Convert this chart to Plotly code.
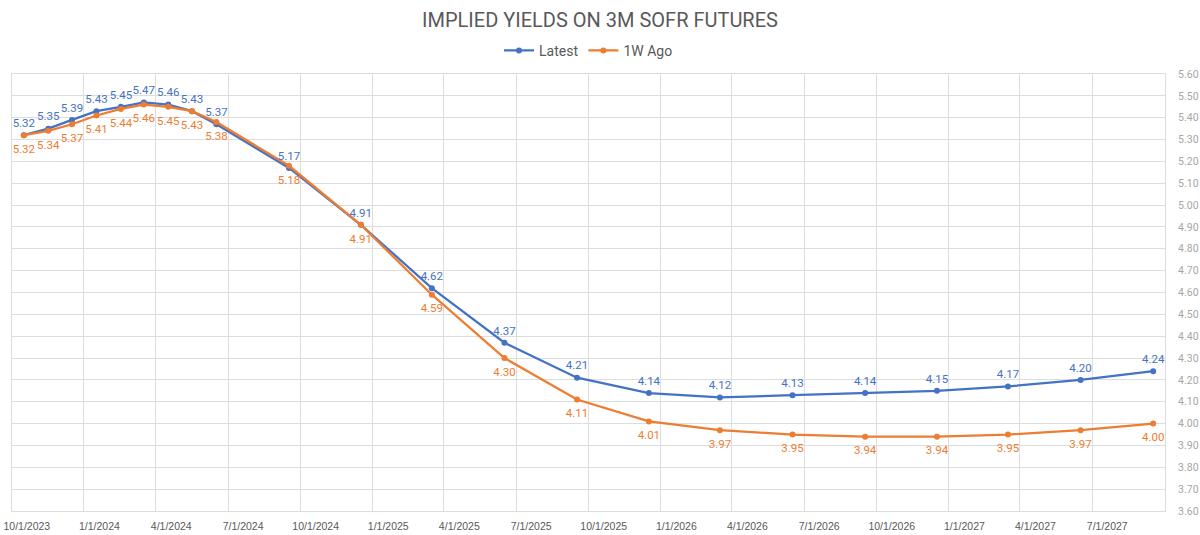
import plotly.graph_objects as go

dates = ["2023-10-01", "2023-11-01", "2023-12-01", "2024-01-01", "2024-02-01", "2024-03-01",
         "2024-04-01", "2024-05-01", "2024-06-01", "2024-09-01", "2024-12-01", "2025-03-01",
         "2025-06-01", "2025-09-01", "2025-12-01", "2026-03-01", "2026-06-01", "2026-09-01",
         "2026-12-01", "2027-03-01", "2027-06-01", "2027-09-01"]
latest = [5.32, 5.35, 5.39, 5.43, 5.45, 5.47, 5.46, 5.43, 5.37, 5.17, 4.91, 4.62,
          4.37, 4.21, 4.14, 4.12, 4.13, 4.14, 4.15, 4.17, 4.20, 4.24]
week_ago = [5.32, 5.34, 5.37, 5.41, 5.44, 5.46, 5.45, 5.43, 5.38, 5.18, 4.91, 4.59,
            4.30, 4.11, 4.01, 3.97, 3.95, 3.94, 3.94, 3.95, 3.97, 4.00]

BLUE = "#4472C4"
ORANGE = "#ED7D31"
GRID = "#DDDDDD"
TXT = "#595959"
FONT = "Roboto, sans-serif"
XFONT = "Liberation Sans, Arial, sans-serif"

fig = go.Figure()
fig.add_trace(go.Scatter(
    x=dates, y=latest, name="Latest", mode="lines+markers",
    line=dict(color=BLUE, width=2.25), marker=dict(size=6, color=BLUE),
))
fig.add_trace(go.Scatter(
    x=dates, y=week_ago, name="1W Ago", mode="lines+markers",
    line=dict(color=ORANGE, width=2.25), marker=dict(size=6, color=ORANGE),
))
# data labels (invisible markers set the label distance from the points)
fig.add_trace(go.Scatter(
    x=dates, y=latest, mode="markers+text", showlegend=False, hoverinfo="skip",
    marker=dict(size=7, opacity=0, color=BLUE),
    texttemplate="%{y:.2f}", textposition="top center",
    textfont=dict(color=BLUE, size=11.5, family=FONT),
))
fig.add_trace(go.Scatter(
    x=dates, y=week_ago, mode="markers+text", showlegend=False, hoverinfo="skip",
    marker=dict(size=13, opacity=0, color=ORANGE),
    texttemplate="%{y:.2f}", textposition="bottom center",
    textfont=dict(color=ORANGE, size=11.5, family=FONT),
))

fig.update_layout(
    width=1200, height=535,
    margin=dict(l=12, r=35, t=74, b=24),
    paper_bgcolor="white", plot_bgcolor="white",
    title=dict(text="IMPLIED YIELDS ON 3M SOFR FUTURES", x=0.5, xanchor="center",
               y=0.962, yanchor="middle",
               font=dict(family=FONT, size=20, color=TXT)),
    legend=dict(orientation="h", x=0.5, xanchor="center", y=1.053, yanchor="middle",
                font=dict(family=FONT, size=14, color=TXT),
                itemwidth=30, tracegroupgap=0),
    showlegend=True,
)
fig.update_xaxes(
    type="date", range=["2023-09-16", "2027-09-16"], automargin=False,
    tick0="2023-10-01", dtick="M3", tickformat="%-m/%-d/%Y",
    showgrid=False, ticks="", zeroline=False, ticklabeloverflow="allow",
    ticklabelstandoff=5, ticklabelshift=3,
    tickfont=dict(family=XFONT, size=10.5, color=TXT),
    showline=True, linecolor=GRID, mirror=True,
    minor=dict(tick0="2023-09-16", dtick="M3", showgrid=True, gridcolor=GRID, gridwidth=1),
)
fig.update_yaxes(
    side="right", range=[3.6, 5.6], dtick=0.1, tickformat=".2f", automargin=False,
    showgrid=True, gridcolor=GRID, gridwidth=1, zeroline=False,
    tickfont=dict(family=FONT, size=10.5, color="#A6A6A6"),
    showline=True, linecolor=GRID, mirror=True, ticks="", ticklabelstandoff=10,
)

fig.write_html("out.html")
